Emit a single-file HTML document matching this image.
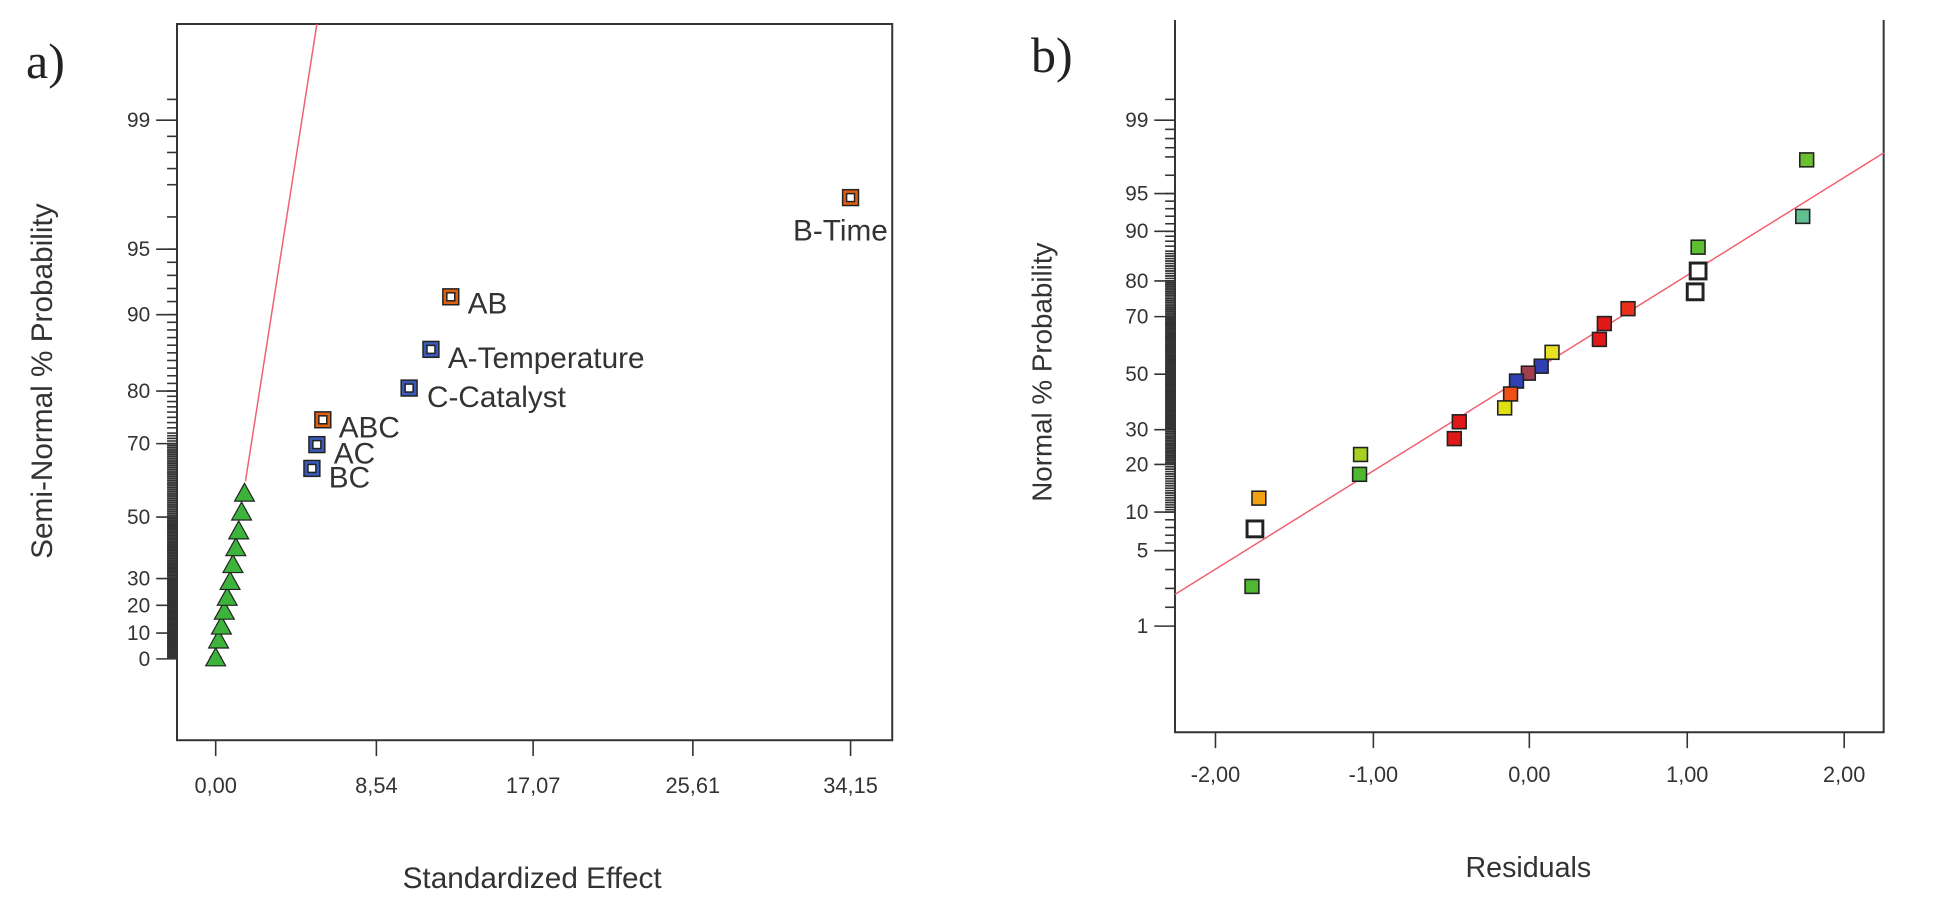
<!DOCTYPE html>
<html><head><meta charset="utf-8"><style>
html,body{margin:0;padding:0;background:#fff;}
svg{display:block;font-family:"Liberation Sans",sans-serif;}
</style></head><body>
<svg id="s" width="1938" height="903" viewBox="0 0 1938 903" xmlns="http://www.w3.org/2000/svg">
<rect width="1938" height="903" fill="#fff"/>
<text x="26" y="78" font-family="Liberation Serif" font-size="50" fill="#222">a)</text>
<text x="1031" y="72" font-family="Liberation Serif" font-size="50" fill="#222">b)</text>
<!-- Left plot -->
<g transform="translate(177,24) scale(0.992) translate(-180,-24)">
<rect x="180" y="24" width="721" height="722" fill="none" stroke="#333" stroke-width="2"/>
<g id="lt" stroke="#333" stroke-width="1.6"></g>
<g font-size="21" fill="#333" text-anchor="end">
<text x="153" y="128">99</text><text x="153" y="258">95</text><text x="153" y="324">90</text>
<text x="153" y="401">80</text><text x="153" y="454">70</text><text x="153" y="528">50</text>
<text x="153" y="590">30</text><text x="153" y="617">20</text><text x="153" y="645">10</text><text x="153" y="671">0</text>
</g>
<g stroke="#333" stroke-width="1.6">
<line x1="219" y1="746" x2="219" y2="762"/><line x1="381" y1="746" x2="381" y2="762"/><line x1="539" y1="746" x2="539" y2="762"/><line x1="700" y1="746" x2="700" y2="762"/><line x1="859" y1="746" x2="859" y2="762"/>
</g>
<g font-size="22" fill="#333" text-anchor="middle">
<text x="219" y="799">0,00</text><text x="381" y="799">8,54</text><text x="539" y="799">17,07</text><text x="700" y="799">25,61</text><text x="859" y="799">34,15</text>
</g>
<text x="538" y="895" font-size="30" fill="#333" text-anchor="middle">Standardized Effect</text>
<text transform="translate(54,384) rotate(-90)" font-size="30" fill="#333" text-anchor="middle">Semi-Normal % Probability</text>
<line x1="321" y1="24" x2="249" y2="485" stroke="#f06070" stroke-width="1.5"/>
<g id="tri" fill="#3cb43c" stroke="#222" stroke-width="1.2"></g>
<g stroke="#222" stroke-width="1.5">
<rect x="851" y="191" width="16" height="16" fill="#e06010"/><rect x="855" y="195" width="8" height="8" fill="#fff"/>
<rect x="448" y="291" width="16" height="16" fill="#e06010"/><rect x="452" y="295" width="8" height="8" fill="#fff"/>
<rect x="428" y="344" width="16" height="16" fill="#3a5cb8"/><rect x="432" y="348" width="8" height="8" fill="#fff"/>
<rect x="406" y="383" width="16" height="16" fill="#3a5cb8"/><rect x="410" y="387" width="8" height="8" fill="#fff"/>
<rect x="319" y="415" width="16" height="16" fill="#e06010"/><rect x="323" y="419" width="8" height="8" fill="#fff"/>
<rect x="313" y="440" width="16" height="16" fill="#3a5cb8"/><rect x="317" y="444" width="8" height="8" fill="#fff"/>
<rect x="308" y="464" width="16" height="16" fill="#3a5cb8"/><rect x="312" y="468" width="8" height="8" fill="#fff"/>
</g>
<g font-size="30" fill="#333">
<text x="801" y="242">B-Time</text><text x="473" y="316">AB</text><text x="453" y="371">A-Temperature</text>
<text x="432" y="410">C-Catalyst</text><text x="343" y="441">ABC</text><text x="338" y="467">AC</text><text x="333" y="491">BC</text>
</g>
</g>

<!-- Right plot -->
<g transform="translate(1175,20) scale(0.987,0.992) translate(-1177,-20)">
<polyline points="1177,20 1177,738 1895,738 1895,20" fill="none" stroke="#333" stroke-width="2"/>
<g id="rt" stroke="#333" stroke-width="1.6"></g>
<g font-size="21" fill="#333" text-anchor="end">
<text x="1150" y="128">99</text><text x="1150" y="202">95</text><text x="1150" y="240">90</text>
<text x="1150" y="290">80</text><text x="1150" y="326">70</text><text x="1150" y="384">50</text>
<text x="1150" y="440">30</text><text x="1150" y="475">20</text><text x="1150" y="523">10</text>
<text x="1150" y="562">5</text><text x="1150" y="638">1</text>
</g>
<g stroke="#333" stroke-width="1.6">
<line x1="1218" y1="738" x2="1218" y2="754"/><line x1="1378" y1="738" x2="1378" y2="754"/><line x1="1536" y1="738" x2="1536" y2="754"/><line x1="1696" y1="738" x2="1696" y2="754"/><line x1="1855" y1="738" x2="1855" y2="754"/>
</g>
<g font-size="22" fill="#333" text-anchor="middle">
<text x="1218" y="788">-2,00</text><text x="1378" y="788">-1,00</text><text x="1536" y="788">0,00</text><text x="1696" y="788">1,00</text><text x="1855" y="788">2,00</text>
</g>
<text x="1535" y="884" font-size="29" fill="#333" text-anchor="middle">Residuals</text>
<text transform="translate(1052,375) rotate(-90)" font-size="28" fill="#333" text-anchor="middle">Normal % Probability</text>
<line x1="1177" y1="599" x2="1895" y2="154" stroke="#f06070" stroke-width="1.5"/>
<g id="pts" stroke="#222" stroke-width="1.6"></g>
</g>
</svg>
<script>
var NS="http://www.w3.org/2000/svg";
function el(g,t,a){var e=document.createElementNS(NS,t);for(var k in a)e.setAttribute(k,a[k]);g.appendChild(e);return e;}
function interp(ks,p){for(var i=0;i<ks.length-1;i++){var a=ks[i],b=ks[i+1];if(p<=a[0]&&p>=b[0])return a[1]+(b[1]-a[1])*(a[0]-p)/(a[0]-b[0]);}return null;}
function ticks(gid,ax,ks,majors,minors){var g=document.getElementById(gid);
majors.forEach(function(p){var y=interp(ks,p);el(g,"line",{x1:ax-21,y1:y,x2:ax,y2:y});});
minors.forEach(function(p){var y=interp(ks,p);if(y!==null)el(g,"line",{x1:ax-10,y1:y,x2:ax,y2:y});});}
var mn=[];for(var p=1;p<99;p++)mn.push(p);mn.push(97.5,98.5,99.5);
var mnl=mn.slice();for(var q=0.5;q<72;q+=0.5)mnl.push(q);
ticks("lt",180,[[99.5,100],[99,121],[95,251],[90,317],[80,394],[70,447],[50,521],[30,583],[20,610],[10,638],[0,664]],[99,95,90,80,70,50,30,20,10,0],mnl);
var mnr=mn.filter(function(p){return p>=2;});for(var q=10.5;q<86;q+=0.5)mnr.push(q);
ticks("rt",1177,[[99.5,100],[99,121],[95,195],[90,233],[80,283],[70,319],[50,377],[30,433],[20,468],[10,516],[5,555],[1,631],[0.5,660]],[99,95,90,80,70,50,30,20,10,5,1],mnr);
var tri=document.getElementById("tri");
var ty=[663,645,631,616,602,586,569,552,535,516,497];
el(tri,"circle",{cx:219,cy:665,r:6,fill:"#c03040"});
ty.forEach(function(y,i){var x=219+29*i/10;el(tri,"polygon",{points:(x-10)+","+(y+8)+" "+(x+10)+","+(y+8)+" "+x+","+(y-10)});});
var P=[[1817,161,"#6cc030"],[1813,218,"#60c090"],[1707,249,"#5cc030"],[1636,311,"#e8301c"],[1612,326,"#e01818"],[1607,342,"#e01818"],[1559,355,"#e8e020"],[1548,369,"#3040b0"],[1535,376,"#a04050"],[1523,384,"#3040b0"],[1517,397,"#f05018"],[1511,411,"#e0e010"],[1465,425,"#e01818"],[1460,442,"#e01818"],[1365,458,"#a8d020"],[1364,478,"#50b830"],[1262,502,"#f0a010"],[1255,591,"#50b830"]];
var pg=document.getElementById("pts");
P.forEach(function(q){el(pg,"rect",{x:q[0]-7,y:q[1]-7,width:14,height:14,fill:q[2]});});
[[1707,273],[1704,294],[1258,533]].forEach(function(q){el(pg,"rect",{x:q[0]-8,y:q[1]-8,width:16,height:16,fill:"#fff","stroke-width":3});});
</script>
</body></html>
